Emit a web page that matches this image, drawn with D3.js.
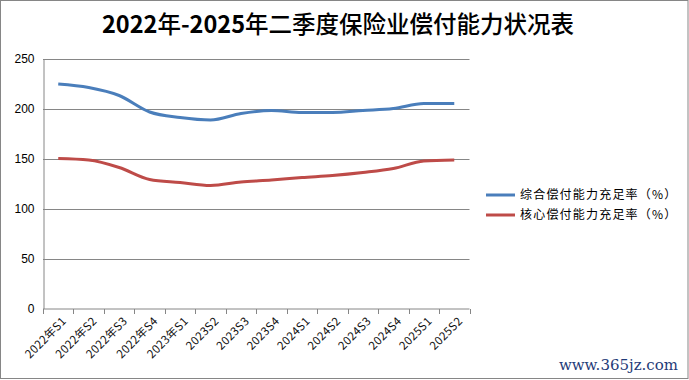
<!DOCTYPE html>
<html><head><meta charset="utf-8">
<script src="https://cdn.jsdelivr.net/npm/d3@7"></script>
<style>body{margin:0;background:#fff}svg{display:block}</style>
</head><body>
<script>
const categories = ["2022年S1","2022年S2","2022年S3","2022年S4","2023年S1","2023S2","2023S3","2023S4","2024S1","2024S2","2024S3","2024S4","2025S1","2025S2"];
const comprehensive = [224.5, 221, 213, 196.5, 191, 188.5, 195, 198, 196, 196, 198, 200, 205, 205];
const core = [150, 148.5, 141, 129, 126, 123, 126.5, 128.5, 131, 133, 136, 140, 147.5, 148.5];
const yTicks = [0, 50, 100, 150, 200, 250];
const seriesNames = ["综合偿付能力充足率（%）", "核心偿付能力充足率（%）"];
const colors = ["#4a7ebb", "#be4b48"];
const titleText = "2022年-2025年二季度保险业偿付能力状况表";

(function(){
const W = 689, H = 380;
const svg = d3.select("body").append("svg").attr("width", W).attr("height", H);
svg.append("rect").attr("x",0.5).attr("y",0.5).attr("width",W-1.5).attr("height",H-2)
  .attr("fill","#fff").attr("stroke","#868686");

const pl = 43, pr = 469.5, pt = 58.5, pb = 308.5;
const x = d3.scaleBand().domain(categories).range([pl, pr]);
const y = d3.scaleLinear().domain([0, 250]).range([pb, pt]);

// title: digits bold, CJK regular weight
const parts = titleText.match(/[0-9\-]+|[^0-9\-]+/g);
const tt = svg.append("text").attr("x", 338).attr("y", 33).attr("text-anchor","middle")
  .attr("font-family","'Noto Sans CJK SC', sans-serif")
  .attr("font-size", 23.5).attr("fill","#000");
tt.selectAll("tspan").data(parts).join("tspan")
  .attr("font-weight", d => /[0-9]/.test(d) ? "bold" : "500")
  .text(d => d);

// gridlines
svg.append("g").selectAll("line").data(yTicks.filter(d=>d>0)).join("line")
  .attr("x1", pl).attr("x2", pr).attr("y1", d=>Math.round(y(d))+0.5).attr("y2", d=>Math.round(y(d))+0.5)
  .attr("stroke","#868686").attr("stroke-width",1);

// y axis
const ya = svg.append("g").attr("transform",`translate(${pl+0.5},0)`)
  .call(d3.axisLeft(y).tickValues(yTicks).tickSize(0).tickPadding(9));
ya.select(".domain").attr("stroke","#868686");
ya.selectAll("text").attr("font-family","'Liberation Sans', Arial, sans-serif").attr("font-size",12).attr("fill","#000");

// x axis
const xa = svg.append("g").attr("transform",`translate(0,${pb+0.5})`);
xa.append("line").attr("x1",pl).attr("x2",pr).attr("stroke","#868686");
const bounds = d3.range(categories.length+1).map(i => pl + i*x.bandwidth());
xa.selectAll("line.t").data(bounds).join("line").attr("class","t")
  .attr("x1",d=>Math.round(d)+0.5).attr("x2",d=>Math.round(d)+0.5).attr("y1",0).attr("y2",5).attr("stroke","#868686");
xa.selectAll("text").data(categories).join("text")
  .attr("transform", d => `translate(${x(d)+x.bandwidth()/2+6},${10}) rotate(-45)`)
  .attr("text-anchor","end").attr("dy","0.35em")
  .attr("font-family","'Noto Sans CJK SC', sans-serif").attr("font-size",11.5).attr("letter-spacing","0.3px").attr("fill","#111")
  .text(d=>d);

// lines
const line = d3.line().x((d,i)=>x(categories[i])+x.bandwidth()/2).y(d=>y(d)).curve(d3.curveMonotoneX);
[comprehensive, core].forEach((s,k)=>{
  svg.append("path").datum(s).attr("d", line).attr("fill","none")
    .attr("stroke", colors[k]).attr("stroke-width",3).attr("stroke-linejoin","round");
});

// legend
seriesNames.forEach((n,k)=>{
  const ly = 195 + k*20;
  svg.append("line").attr("x1",486).attr("x2",515).attr("y1",ly).attr("y2",ly)
    .attr("stroke",colors[k]).attr("stroke-width",3);
  svg.append("text").attr("x",520).attr("y",ly).attr("dy","0.36em")
    .attr("font-family","'Noto Sans CJK SC', sans-serif").attr("font-size",12).attr("letter-spacing","1.2px")
    .attr("fill","#000").text(n);
});

// watermark
svg.append("text").attr("x",678).attr("y",370).attr("text-anchor","end")
  .attr("font-family","'DejaVu Serif', serif").attr("font-size",15).attr("fill","#1f3b78")
  .text("www.365jz.com");
})();
</script>
</body></html>
